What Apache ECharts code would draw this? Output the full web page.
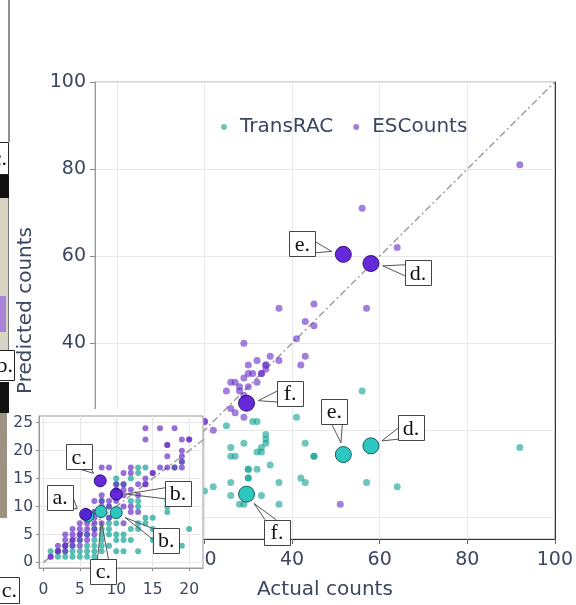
<!DOCTYPE html>
<html><head><meta charset="utf-8">
<script src="https://cdn.jsdelivr.net/npm/echarts@6/dist/echarts.min.js"></script>
<style>html,body{margin:0;padding:0;background:#fff}#chart{width:576px;height:605px}</style>
</head><body><div id="chart"></div>
<script>
// ---------------- DATA ----------------
const seriesNames = ['TransRAC', 'ESCounts'];
// [actual count, predicted count]
const transracPoints = [
  [1,2],[2,1],[2,2],[3,1],[3,2],[3,3],[4,1],[4,2],[4,3],[5,1],[5,2],[5,4],[6,1],[6,2],[6,3],[6,5],
  [7,1],[7,2],[7,3],[7,4],[7,6],[7,9],[8,2],[8,3],[8,4],[8,5],[8,6],[8,11],[9,3],[9,5],[9,6],[9,7],[9,8],[9,10],
  [10,2],[10,4],[10,5],[10,7],[10,14],[10,15],[11,2],[11,4],[11,5],[11,14],[12,4],[12,6],[12,11],[12,15],
  [13,2],[13,6],[13,7],[13,10],[13,11],[13,16],[13,17],[14,7],[14,8],[14,17],[15,4],[15,6],[15,8],[16,5],
  [17,9],[17,10],[17,11],[18,17],[19,3],[19,18],[20,6],
  [56,29],[41,23],[25,21],[31,22],[32,22],[34,19],[34,18],[34,17],[33,16],[33,15],[29,17],[26,16],
  [27,14],[26,14],[32,15],[35,12],[30,11],[30,11],[32,11],[30,9],[30,9],[26,8],[22,7],[26,5],[28,3],[29,3],
  [33,5],[37,3],[37,8],[43,17],[45,14],[45,14],[43,8],[42,9],[57,8],[64,7],[92,16]
];
const escountsPoints = [
  [1,1],[1,1],[2,2],[2,2],[2,3],[3,2],[3,3],[3,3],[3,4],[3,5],[4,3],[4,4],[4,4],[4,5],[4,6],[5,3],[5,4],
  [5,5],[5,5],[5,6],[5,7],[6,4],[6,5],[6,6],[6,7],[6,9],[7,5],[7,6],[7,7],[7,8],[7,9],[7,11],[8,7],[8,10],
  [8,11],[8,12],[8,17],[9,8],[9,10],[9,11],[9,17],[10,11],[10,13],[10,14],[11,7],[11,10],[11,12],[11,13],
  [11,14],[11,16],[12,9],[12,10],[12,13],[12,16],[12,17],[13,9],[13,12],[13,14],[14,14],[14,14],[14,15],
  [14,22],[14,24],[15,16],[15,16],[16,17],[16,24],[17,17],[17,19],[17,21],[17,21],[18,17],[18,24],[19,17],
  [19,18],[19,19],[19,20],[19,22],[20,22],
  [92,81],[56,71],[64,62],[37,48],[45,49],[57,48],[43,45],[45,44],[41,41],[29,40],[43,37],[42,35],[37,36],
  [35,37],[32,36],[30,35],[34,35],[34,35],[34,34],[33,33],[33,33],[31,33],[30,33],[29,32],[32,31],[30,30],
  [28,30],[26,31],[27,31],[25,29],[28,29],[29,28],[26,25],[27,24],[29,23],[22,20],[20,22],[51,3]
];
// highlighted samples a.-f.
const highlightLabels = ['a.', 'b.', 'c.', 'd.', 'e.', 'f.'];
const highlightESCounts = [[5.8,8.6],[10,12.2],[7.8,14.6],[58,58.3],[51.7,60.4],[29.6,26.2]];
const highlightTransRAC = [[6.1,8.3],[10,8.9],[7.9,9.1],[58,16.4],[51.7,14.4],[29.6,5.3]];
// identity line endpoints
const identityLine = [[0,0],[100,100]];
// axis ticks
const mainTicks = [0,20,40,60,80,100];
const insetXTicks = [0,5,10,15,20];
const insetYTicks = [0,5,10,15,20,25];
const axisTitles = ['Actual counts', 'Predicted counts'];

// ---------------- STYLE ----------------
const FONT = '"DejaVu Sans", Verdana, sans-serif';
const TXT = '#3b4660';
const COL = {
  TransRAC: { dot: '#13a294', big: '#2cc7c1', border: '#1d5e60' },
  ESCounts: { dot: '#6930c6', big: '#5512d6', border: '#2a0a6a' }
};
// callout box centre offsets (px) from marker, per panel
const mainCallouts = {
  ESCounts: { 'd.': [47, 9.4], 'e.': [-41, -10.4], 'f.': [43.6, -9.5] },
  TransRAC: { 'd.': [40, -18], 'e.': [-9, -43.5], 'f.': [30.5, 38] }
};
const insetCallouts = {
  ESCounts: { 'a.': [-25.6, -17.2], 'b.': [61.7, -1.2], 'c.': [-21, -24] },
  TransRAC: { 'b.': [50, 27.5], 'c.': [2.5, 60] }
};

function calloutSeries(method, points, offsets, xi, yi, radius, z) {
  return {
    type: 'custom', name: method + ' labels', xAxisIndex: xi, yAxisIndex: yi, z: z, silent: true, clip: false,
    data: points.map((p, i) => [p[0], p[1], i]),
    encode: { x: 0, y: 1 },
    renderItem: function (params, api) {
      const lab = highlightLabels[api.value(2)];
      const off = offsets[lab];
      if (!off) return null;
      const c = api.coord([api.value(0), api.value(1)]);
      const bw = 26, bh = 25;
      const bx = c[0] + off[0], by = c[1] + off[1];
      const vx = c[0] - bx, vy = c[1] - by;
      let b1, b2;
      const sp = 5.5;
      if (Math.abs(vx) / (bw / 2) >= Math.abs(vy) / (bh / 2)) {
        const sx = bx + Math.sign(vx) * bw / 2;
        let yy = by + vy * (bw / 2) / Math.abs(vx);
        yy = Math.max(by - bh / 2 + sp + 1, Math.min(by + bh / 2 - sp - 1, yy));
        b1 = [sx, yy - sp]; b2 = [sx, yy + sp];
      } else {
        const sy = by + Math.sign(vy) * bh / 2;
        let xx = bx + vx * (bh / 2) / Math.abs(vy);
        xx = Math.max(bx - bw / 2 + sp + 1, Math.min(bx + bw / 2 - sp - 1, xx));
        b1 = [xx - sp, sy]; b2 = [xx + sp, sy];
      }
      const len = Math.hypot(vx, vy) || 1;
      const tip = [c[0] - vx / len * (radius + 4), c[1] - vy / len * (radius + 4)];
      return {
        type: 'group',
        children: [
          { type: 'polyline', shape: { points: [b1, tip, b2] }, style: { fill: null, stroke: '#555', lineWidth: 1 } },
          { type: 'rect', shape: { x: Math.round(bx - bw / 2) + 0.5, y: Math.round(by - bh / 2) + 0.5, width: bw, height: bh },
            style: { fill: '#fff', stroke: '#444', lineWidth: 1 } },
          { type: 'text', style: { text: lab, x: bx, y: by + 1, align: 'center', verticalAlign: 'middle',
            font: '22px "Liberation Serif", "Times New Roman", serif', fill: '#111' } }
        ]
      };
    }
  };
}

function scatter(name, data, xi, yi, size, z, op) {
  return { type: 'scatter', name: name, xAxisIndex: xi, yAxisIndex: yi, data: data, symbolSize: size, z: z,
    itemStyle: { color: COL[name].dot, opacity: op }, silent: true };
}
function bigMarkers(name, data, xi, yi, size, z) {
  return { type: 'scatter', name: name + ' highlight', xAxisIndex: xi, yAxisIndex: yi, data: data, symbolSize: size, z: z,
    itemStyle: { color: COL[name].big, borderColor: COL[name].border, borderWidth: 1, opacity: name === 'ESCounts' ? 0.9 : 1 }, silent: true };
}
function diag(xi, yi, z) {
  return { type: 'line', xAxisIndex: xi, yAxisIndex: yi, data: identityLine, symbol: 'none', z: z, silent: true,
    lineStyle: { color: '#9a9a9a', width: 1.4, type: [7, 3, 2, 3] } };
}

const chart = echarts.init(document.getElementById('chart'), null, { renderer: 'canvas' });
const option = {
  animation: false,
  backgroundColor: '#fff',
  legend: {
    data: seriesNames, left: 216, top: 112, icon: 'circle', itemWidth: 22, itemHeight: 6, itemGap: 20,
    textStyle: { fontFamily: FONT, fontSize: 20, color: TXT }
  },
  grid: [
    { left: 95, top: 82, right: 20, bottom: 62, show: true, borderColor: '#a8a8a8', borderWidth: 1, backgroundColor: 'transparent' },
    { left: 39, top: 416, width: 164, height: 152, show: true, borderColor: '#9a9a9a', borderWidth: 1, backgroundColor: '#fff', z: 11 }
  ],
  xAxis: [
    { type: 'value', gridIndex: 0, min: -5, max: 100,
      name: axisTitles[0], nameLocation: 'middle', nameGap: 41,
      nameTextStyle: { fontFamily: FONT, fontSize: 20, color: TXT },
      axisLine: { show: true, onZero: false, lineStyle: { color: '#333' } },
      axisTick: { show: true, customValues: mainTicks, length: 5, lineStyle: { color: '#666' } },
      axisLabel: { customValues: mainTicks, fontFamily: FONT, fontSize: 19, color: TXT, margin: 12 },
      splitLine: { show: true, lineStyle: { color: '#e8e8e8' } } },
    { type: 'value', gridIndex: 1, min: -0.6, max: 21.9, z: 11,
      axisLine: { show: true, onZero: false, lineStyle: { color: '#9a9a9a' } },
      axisTick: { show: true, customValues: insetXTicks, length: 3, lineStyle: { color: '#888' } },
      axisLabel: { customValues: insetXTicks, fontFamily: FONT, fontSize: 15.5, color: TXT, margin: 14 },
      splitLine: { show: true, lineStyle: { color: '#e8e8e8' } } }
  ],
  yAxis: [
    { type: 'value', gridIndex: 0, min: -5, max: 100,
      name: axisTitles[1], nameLocation: 'middle', nameGap: 59,
      nameTextStyle: { fontFamily: FONT, fontSize: 20, color: TXT },
      axisLine: { show: true, onZero: false, lineStyle: { color: '#9a9a9a' } },
      axisTick: { show: true, customValues: mainTicks, length: 5, lineStyle: { color: '#888' } },
      axisLabel: { customValues: mainTicks, fontFamily: FONT, fontSize: 19, color: TXT, margin: 9 },
      splitLine: { show: true, lineStyle: { color: '#e8e8e8' } } },
    { type: 'value', gridIndex: 0, min: -5, max: 100, position: 'right',
      axisLine: { show: true, onZero: false, lineStyle: { color: '#333' } },
      axisTick: { show: false }, axisLabel: { show: false }, splitLine: { show: false } },
    { type: 'value', gridIndex: 1, min: -1, max: 26.2, z: 11,
      axisLine: { show: true, onZero: false, lineStyle: { color: '#9a9a9a' } },
      axisTick: { show: true, customValues: insetYTicks, length: 3, lineStyle: { color: '#888' } },
      axisLabel: { customValues: insetYTicks, fontFamily: FONT, fontSize: 15.5, color: TXT, margin: 6 },
      splitLine: { show: true, lineStyle: { color: '#e8e8e8' } } }
  ],
  series: [
    diag(0, 0, 1),
    scatter('TransRAC', transracPoints, 0, 0, 7, 2, 0.62),
    scatter('ESCounts', escountsPoints, 0, 0, 7, 2, 0.62),
    bigMarkers('TransRAC', highlightTransRAC, 0, 0, 16, 3),
    bigMarkers('ESCounts', highlightESCounts, 0, 0, 16, 3),
    calloutSeries('ESCounts', highlightESCounts, mainCallouts.ESCounts, 0, 0, 8, 4),
    calloutSeries('TransRAC', highlightTransRAC, mainCallouts.TransRAC, 0, 0, 8, 4),
    diag(1, 2, 12),
    scatter('TransRAC', transracPoints, 1, 2, 6, 13, 0.7),
    scatter('ESCounts', escountsPoints, 1, 2, 6, 13, 0.7),
    bigMarkers('TransRAC', highlightTransRAC, 1, 2, 12, 14),
    bigMarkers('ESCounts', highlightESCounts, 1, 2, 12, 14),
    calloutSeries('ESCounts', highlightESCounts, insetCallouts.ESCounts, 1, 2, 6, 15),
    calloutSeries('TransRAC', highlightTransRAC, insetCallouts.TransRAC, 1, 2, 6, 15)
  ],
  graphic: [
    // inset panel backdrop
    { type: 'rect', z: 10, silent: true, shape: { x: 0, y: 409, width: 203.5, height: 196 }, style: { fill: '#fff' } },
    // cropped edge of neighbouring figure
    { type: 'rect', z: 20, silent: true, shape: { x: 8.5, y: 0, width: 1, height: 142 }, style: { fill: '#222' } },
    { type: 'rect', z: 20, silent: true, shape: { x: -20.5, y: 142.5, width: 29, height: 32 }, style: { fill: '#fff', stroke: '#222', lineWidth: 1 } },
    { type: 'text', z: 21, silent: true, style: { text: 'c.', x: 7, y: 159, align: 'right', verticalAlign: 'middle', font: '22px "Liberation Serif", serif', fill: '#111' } },
    { type: 'rect', z: 20, silent: true, shape: { x: 0, y: 175, width: 9, height: 23 }, style: { fill: '#111' } },
    { type: 'rect', z: 20, silent: true, shape: { x: 0, y: 198, width: 8, height: 152 }, style: { fill: '#d8d4c4' } },
    { type: 'rect', z: 20, silent: true, shape: { x: 0, y: 296, width: 6, height: 36 }, style: { fill: '#a884d8' } },
    { type: 'rect', z: 20, silent: true, shape: { x: 8, y: 198, width: 1, height: 152 }, style: { fill: '#777' } },
    { type: 'rect', z: 20, silent: true, shape: { x: -15.5, y: 350.5, width: 30, height: 30 }, style: { fill: '#fff', stroke: '#222', lineWidth: 1 } },
    { type: 'text', z: 21, silent: true, style: { text: 'b.', x: 13, y: 366, align: 'right', verticalAlign: 'middle', font: '22px "Liberation Serif", serif', fill: '#111' } },
    { type: 'rect', z: 20, silent: true, shape: { x: 0, y: 382, width: 9, height: 31 }, style: { fill: '#111' } },
    { type: 'rect', z: 20, silent: true, shape: { x: 0, y: 413, width: 7, height: 105 }, style: { fill: '#9c9282' } },
    { type: 'rect', z: 20, silent: true, shape: { x: -10.5, y: 577.5, width: 30, height: 26 }, style: { fill: '#fff', stroke: '#333', lineWidth: 1 } },
    { type: 'text', z: 21, silent: true, style: { text: 'c.', x: 17, y: 591, align: 'right', verticalAlign: 'middle', font: '22px "Liberation Serif", serif', fill: '#111' } }
  ]
};
chart.setOption(option);
</script></body></html>
